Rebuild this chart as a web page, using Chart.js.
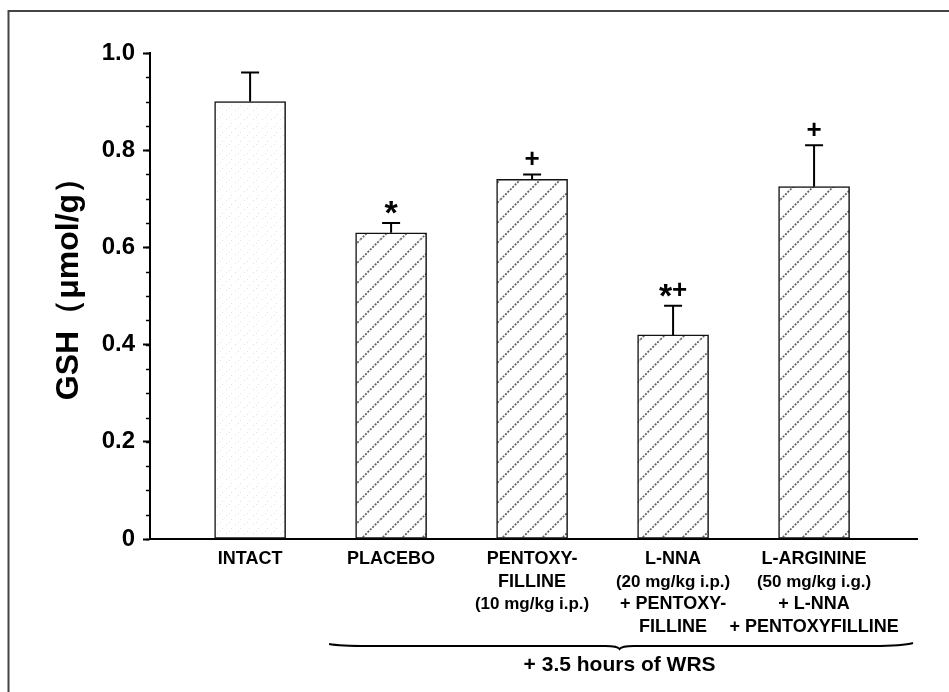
<!DOCTYPE html>
<html>
<head>
<meta charset="utf-8">
<script src="https://cdn.jsdelivr.net/npm/chart.js@4/dist/chart.umd.min.js"></script>
<style>
  html, body { margin: 0; padding: 0; background: #fff; }
  #wrap { width: 949px; height: 692px; position: relative; }
</style>
</head>
<body>
<div id="wrap"><canvas id="gsh" width="949" height="692"></canvas></div>
<script>
// Group labels, one entry per bar (each entry is the stacked lines under the bar)
const groupLabels = [
  ["INTACT"],
  ["PLACEBO"],
  ["PENTOXY-", "FILLINE", "(10 mg/kg i.p.)"],
  ["L-NNA", "(20 mg/kg i.p.)", "+ PENTOXY-", "FILLINE"],
  ["L-ARGININE", "(50 mg/kg i.g.)", "+ L-NNA", "+ PENTOXYFILLINE"]
];
// Gastric mucosal GSH, mean and SEM (µmol/g)
const gshMean = [0.90, 0.63, 0.74, 0.42, 0.725];
const gshSem  = [0.06, 0.02, 0.01, 0.06, 0.085];
// Significance marks above each bar
const sigMarks = ["", "*", "+", "*+", "+"];
// Y axis ticks
const yTicks = [0, 0.2, 0.4, 0.6, 0.8, 1.0];
const yTickText = ["0", "0.2", "0.4", "0.6", "0.8", "1.0"];
const yMinorStep = 0.05;
const yAxisTitle = "GSH\uFF08\u03BCmol/g\uFF09";
const groupNote = "+ 3.5 hours of WRS";

const FONT = "'Liberation Sans', Arial, Helvetica, sans-serif";

// Fill patterns: faint stipple for the intact group, dotted diagonal hatch for the rest
function makeHatch() {
  const c = document.createElement('canvas');
  c.width = 20; c.height = 20;
  const g = c.getContext('2d');
  g.fillStyle = '#fff';
  g.fillRect(0, 0, 20, 20);
  g.strokeStyle = '#666';
  g.lineWidth = 1.8;
  g.setLineDash([2, 1.4]);
  g.beginPath();
  g.moveTo(-2, 22); g.lineTo(22, -2);
  g.moveTo(-12, 12); g.lineTo(12, -12);
  g.moveTo(8, 32); g.lineTo(32, 8);
  g.stroke();
  return g.createPattern(c, 'repeat');
}
function makeStipple() {
  const c = document.createElement('canvas');
  c.width = 9; c.height = 9;
  const g = c.getContext('2d');
  g.fillStyle = '#fff';
  g.fillRect(0, 0, 9, 9);
  g.fillStyle = '#e2e2e2';
  g.fillRect(1, 2, 1, 1);
  g.fillRect(6, 6, 1, 1);
  g.fillRect(4, 0, 1, 1);
  return g.createPattern(c, 'repeat');
}
const hatch = makeHatch();
const stipple = makeStipple();

const barData = gshMean.map((v, i) => ({ x: i + 1, y: v }));

// Draws a significance mark centred at (cx, cy); the asterisk glyph is enlarged
// and lowered so it sits on the same centre line as the plus sign.
function drawMark(ctx, text, cx, cy) {
  const parts = text.split('').map(ch => ({
    ch,
    font: (ch === '*' ? 'bold 34px ' : 'bold 26px ') + FONT,
    dy: ch === '*' ? 7 : 0
  }));
  let total = 0;
  parts.forEach(p => { ctx.font = p.font; p.w = ctx.measureText(p.ch).width; total += p.w; });
  let xx = cx - total / 2;
  ctx.textAlign = 'left';
  ctx.textBaseline = 'middle';
  parts.forEach(p => {
    ctx.font = p.font;
    ctx.fillText(p.ch, xx, cy + p.dy);
    xx += p.w;
  });
}

// Error bars, minor ticks, axis title, group labels, brace and frame
const decorations = {
  id: 'decorations',
  afterDatasetsDraw(chart) {
    const { ctx, scales: { x, y } } = chart;
    ctx.save();
    ctx.strokeStyle = '#000';
    ctx.fillStyle = '#000';
    ctx.lineWidth = 2;
    gshMean.forEach((m, i) => {
      const px = x.getPixelForValue(i + 1);
      const yBar = y.getPixelForValue(m);
      const yTop = y.getPixelForValue(m + gshSem[i]);
      ctx.beginPath();
      ctx.moveTo(px, yBar);
      ctx.lineTo(px, yTop);
      ctx.moveTo(px - 9, yTop);
      ctx.lineTo(px + 9, yTop);
      ctx.stroke();
      if (sigMarks[i]) drawMark(ctx, sigMarks[i], px, yTop - 15);
    });
    ctx.restore();
  },
  afterDraw(chart) {
    const { ctx, chartArea, scales: { x, y } } = chart;
    ctx.save();
    // minor ticks
    ctx.strokeStyle = '#000';
    ctx.lineWidth = 1.5;
    for (let v = 0; v <= 1.0001; v += yMinorStep) {
      const py = Math.round(y.getPixelForValue(v)) + 0.5;
      ctx.beginPath();
      ctx.moveTo(chartArea.left - 4, py);
      ctx.lineTo(chartArea.left, py);
      ctx.stroke();
    }
    // y axis title
    ctx.save();
    ctx.translate(69, 281);
    ctx.rotate(-Math.PI / 2);
    ctx.font = 'bold 32px ' + FONT;
    ctx.textAlign = 'center';
    ctx.textBaseline = 'middle';
    ctx.fillStyle = '#000';
    ctx.fillText(yAxisTitle, 0, 0);
    ctx.restore();
    // group labels under each bar
    ctx.fillStyle = '#000';
    ctx.textAlign = 'center';
    ctx.textBaseline = 'alphabetic';
    groupLabels.forEach((lines, i) => {
      const px = x.getPixelForValue(i + 1);
      lines.forEach((t, k) => {
        ctx.font = (t.startsWith('(') ? '600 17px ' : 'bold 18px ') + FONT;
        ctx.fillText(t, px, chartArea.bottom + 25 + k * 22.5);
      });
    });
    // brace spanning the treated groups
    const bx0 = x.getPixelForValue(2) - 62;
    const bx1 = chartArea.right - 4;
    const bmid = (x.getPixelForValue(3) + x.getPixelForValue(4)) / 2 + 17;
    const by = chartArea.bottom + 107;
    ctx.strokeStyle = '#000';
    ctx.lineWidth = 2;
    ctx.beginPath();
    ctx.moveTo(bx0, by - 2);
    ctx.quadraticCurveTo(bx0 + 10, by, bx0 + 40, by);
    ctx.lineTo(bmid - 14, by);
    ctx.quadraticCurveTo(bmid - 2, by, bmid, by + 3);
    ctx.quadraticCurveTo(bmid + 2, by, bmid + 14, by);
    ctx.lineTo(bx1 - 40, by);
    ctx.quadraticCurveTo(bx1 - 10, by, bx1, by - 3);
    ctx.stroke();
    ctx.font = 'bold 21px ' + FONT;
    ctx.textAlign = 'center';
    ctx.fillText(groupNote, bmid, by + 25);
    // outer frame
    ctx.strokeStyle = '#444';
    ctx.lineWidth = 2;
    ctx.beginPath();
    ctx.moveTo(949, 11);
    ctx.lineTo(8.5, 11);
    ctx.lineTo(8.5, 692);
    ctx.stroke();
    ctx.restore();
  }
};

new Chart(document.getElementById('gsh'), {
  type: 'bar',
  data: {
    datasets: [{
      data: barData,
      backgroundColor: gshMean.map((_, i) => i === 0 ? stipple : hatch),
      borderColor: '#111',
      borderWidth: 1.5,
      borderSkipped: false,
      barThickness: 71
    }]
  },
  options: {
    responsive: false,
    animation: false,
    events: [],
    layout: { padding: { left: 0, top: 53, right: 32, bottom: 0 } },
    plugins: { legend: { display: false }, tooltip: { enabled: false } },
    scales: {
      x: {
        type: 'linear',
        offset: false,
        min: 0.29,
        max: 5.73,
        ticks: { display: false },
        grid: { display: true, drawOnChartArea: false, drawTicks: false, offset: false },
        border: { display: true, color: '#000', width: 2 },
        afterFit(s) { s.height = 153; }
      },
      y: {
        min: 0,
        max: 1.0,
        afterBuildTicks(s) { s.ticks = yTicks.map(v => ({ value: v })); },
        ticks: {
          padding: 8,
          color: '#000',
          font: { family: FONT, size: 24, weight: 'bold' },
          callback(v) { const k = yTicks.findIndex(t => Math.abs(t - v) < 1e-6); return k >= 0 ? yTickText[k] : ''; }
        },
        grid: { drawOnChartArea: false, drawTicks: true, tickLength: 7, tickWidth: 2, tickColor: '#000' },
        border: { display: true, color: '#000', width: 2 },
        afterFit(s) { s.width = 150; }
      }
    }
  },
  plugins: [decorations]
});
</script>
</body>
</html>
